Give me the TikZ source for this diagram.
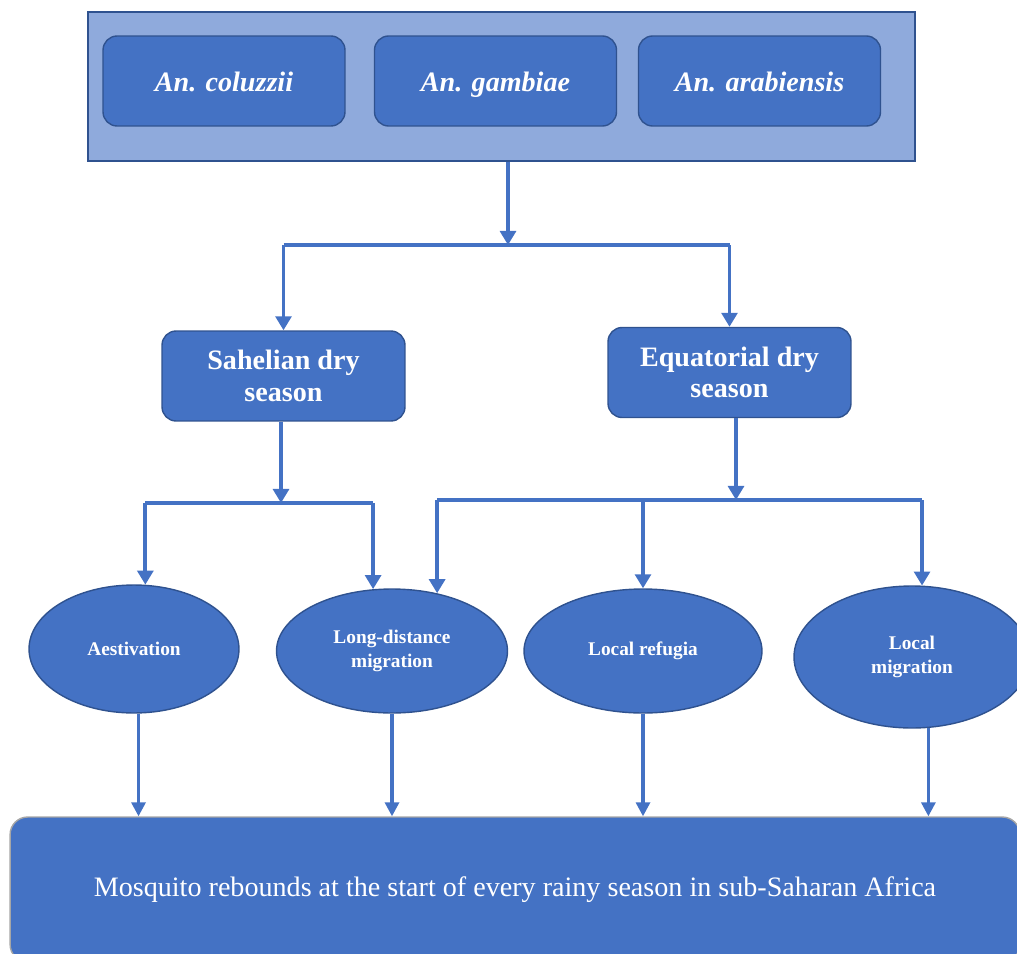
\documentclass[tikz,border=0pt]{standalone}
\usepackage{fontspec}
\setmainfont{Liberation Serif}
\usetikzlibrary{shapes.geometric,arrows.meta,positioning}
\definecolor{boxblue}{HTML}{4472C4}
\definecolor{boxedge}{HTML}{2F528F}
\definecolor{panelblue}{HTML}{8FAADC}

\begin{document}
\begin{tikzpicture}[x=0.02cm, y=-0.02cm,
    species/.style={rectangle, rounded corners=8pt, draw=boxedge, fill=boxblue, line width=0.8pt, minimum width=4.84cm, minimum height=1.8cm, text height=14pt, text depth=2pt, text=white, font=\fontsize{16}{19}\selectfont\bfseries\itshape},
    season/.style={rectangle, rounded corners=8pt, draw=boxedge, fill=boxblue, line width=0.8pt, minimum width=4.86cm, minimum height=1.8cm, text=white, align=center, font=\fontsize{16}{18}\selectfont\bfseries},
    strategy/.style={ellipse, draw=boxedge, fill=boxblue, line width=0.8pt, inner sep=0pt, text=white, align=center, font=\fontsize{11}{14}\selectfont\bfseries},
    arrow/.style={-{Triangle[width=9pt,length=8pt]}, line width=2.2pt, color=boxblue},
    thin arrow/.style={-{Triangle[width=8pt,length=8pt]}, line width=1.8pt, color=boxblue},
    link/.style={line width=2.2pt, color=boxblue}
]
    \useasboundingbox (0,0) rectangle (1017,953);

    % Top: species panel
    \node[rectangle, draw=boxedge, fill=panelblue, line width=0.8pt, minimum width=16.54cm, minimum height=2.98cm] (panel) at (501.5,86.5) {};
    \node[species] (colu) at (224,81) {An. coluzzii};
    \node[species] (gamb) at (495.5,81) {An. gambiae};
    \node[species] (arab) at (759.5,81) {An. arabiensis};

    % Middle: dry seasons
    \node[season] (sahel) at (283.5,376) {Sahelian dry\\season};
    \node[season] (equat) at (729.5,372.5) {Equatorial dry\\season};

    % Strategies
    \node[strategy, minimum width=4.2cm, minimum height=2.56cm] (aest) at (134,649) {Aestivation};
    \node[strategy, minimum width=4.62cm, minimum height=2.48cm] (longd) at (392,651) {Long-distance\\migration};
    \node[strategy, minimum width=4.76cm, minimum height=2.48cm] (locref) at (643,651) {Local refugia};
    \node[strategy, minimum width=4.72cm, minimum height=2.84cm] (locmig) at (912,657) {Local\\migration};

    % Bottom: outcome
    \node[rectangle, rounded corners=10pt, draw=gray!70, fill=boxblue, line width=0.8pt, minimum width=20.2cm, minimum height=2.9cm, text=white, font=\fontsize{16}{19}\selectfont] (rebound) at (515,889.5) {Mosquito rebounds at the start of every rainy season in sub-Saharan Africa};

    % Split points
    \coordinate (top split) at (508,245);
    \coordinate (sahel split) at (281,503);
    \coordinate (equat split) at (736,500);

    % Arrows: panel to seasons
    \draw[arrow] (panel.south -| top split) -- (top split);
    \draw[link] (sahel.north |- top split) -- (equat.north |- top split);
    \draw[arrow] (sahel.north |- top split) -- (sahel.north);
    \draw[arrow] (equat.north |- top split) -- (equat.north);

    % Arrows: Sahelian season
    \draw[arrow] (sahel.south -| sahel split) -- (sahel split);
    \draw[link] (aest.80 |- sahel split) -- (longd.107 |- sahel split);
    \draw[arrow] (aest.80 |- sahel split) -- (aest.80);
    \draw[arrow] (longd.107 |- sahel split) -- (longd.107);

    % Arrows: Equatorial season
    \draw[arrow] (equat.south -| equat split) -- (equat split);
    \draw[link] (longd.52 |- equat split) -- (locmig.82 |- equat split);
    \draw[arrow] (longd.52 |- equat split) -- (longd.52);
    \draw[arrow] (locref.north |- equat split) -- (locref.north);
    \draw[arrow] (locmig.82 |- equat split) -- (locmig.82);

    % Arrows: strategies to outcome
    \draw[thin arrow] (aest.-86) -- (aest.-86 |- rebound.north);
    \draw[thin arrow] (longd.south) -- (longd.south |- rebound.north);
    \draw[thin arrow] (locref.south) -- (locref.south |- rebound.north);
    \draw[thin arrow] (locmig.-77) -- (locmig.-77 |- rebound.north);
\end{tikzpicture}
\end{document}
